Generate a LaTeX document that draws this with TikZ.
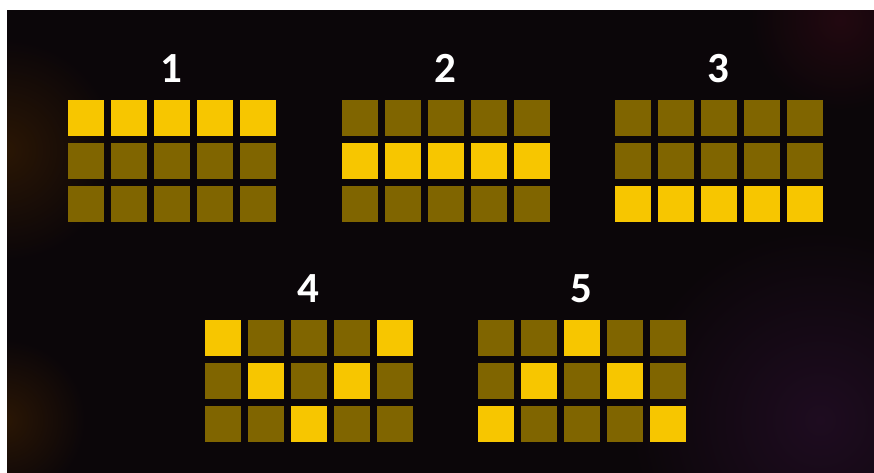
\documentclass[tikz,border=0pt]{standalone}
\usepackage{fontspec}
\setmainfont{Carlito}
\definecolor{bg}{HTML}{0B0609}
\definecolor{lit}{HTML}{F7C600}
\definecolor{dim}{HTML}{806500}
\definecolor{glowbrown}{HTML}{2A1604}
\definecolor{glowpurple}{HTML}{1E0C20}
\definecolor{glowred}{HTML}{220810}
\tikzset{
  cell/.style={minimum size=36pt, inner sep=0pt, outer sep=0pt, anchor=north west, draw=none},
  litcell/.style={cell, fill=lit},
  dimcell/.style={cell, fill=dim},
  num/.style={text=white, font=\bfseries\fontsize{43}{43}\selectfont, inner sep=0pt, anchor=base}
}
\begin{document}
\begin{tikzpicture}[x=1pt,y=-1pt]
\useasboundingbox (0,0) rectangle (874,472);
\fill[white] (-5,-5) rectangle (880,10);
\fill[white] (-5,-5) rectangle (7,480);
\fill[bg] (7,10) rectangle (880,480);
\begin{scope}
\clip (7,10) rectangle (880,480);
\shade[inner color=glowbrown, outer color=bg] (5,150) circle (110);
\shade[inner color=glowbrown, outer color=bg] (5,420) circle (80);
\shade[inner color=glowpurple, outer color=bg] (820,420) circle (190);
\shade[inner color=glowred, outer color=bg] (840,20) circle (90);
\end{scope}
% grids: name / x0 / y0 / lit rows per column
\foreach \g/\xo/\yo/\la/\lb/\lc/\ld/\le in
  {1/68/100/0/0/0/0/0, 2/342/100/1/1/1/1/1, 3/615/100/2/2/2/2/2,
   4/205/320/0/1/2/1/0, 5/478/320/2/1/0/1/2}{
  \foreach \c/\l in {0/\la,1/\lb,2/\lc,3/\ld,4/\le}{
    \foreach \r in {0,1,2}{
      \ifnum\r=\l
        \node[litcell] (g\g-\r-\c) at (\xo+43*\c, \yo+43*\r) {};
      \else
        \node[dimcell] (g\g-\r-\c) at (\xo+43*\c, \yo+43*\r) {};
      \fi
    }
  }
  \node[num] (n\g) at (\xo+103, \yo-18) {\g};
}
\end{tikzpicture}
\end{document}
